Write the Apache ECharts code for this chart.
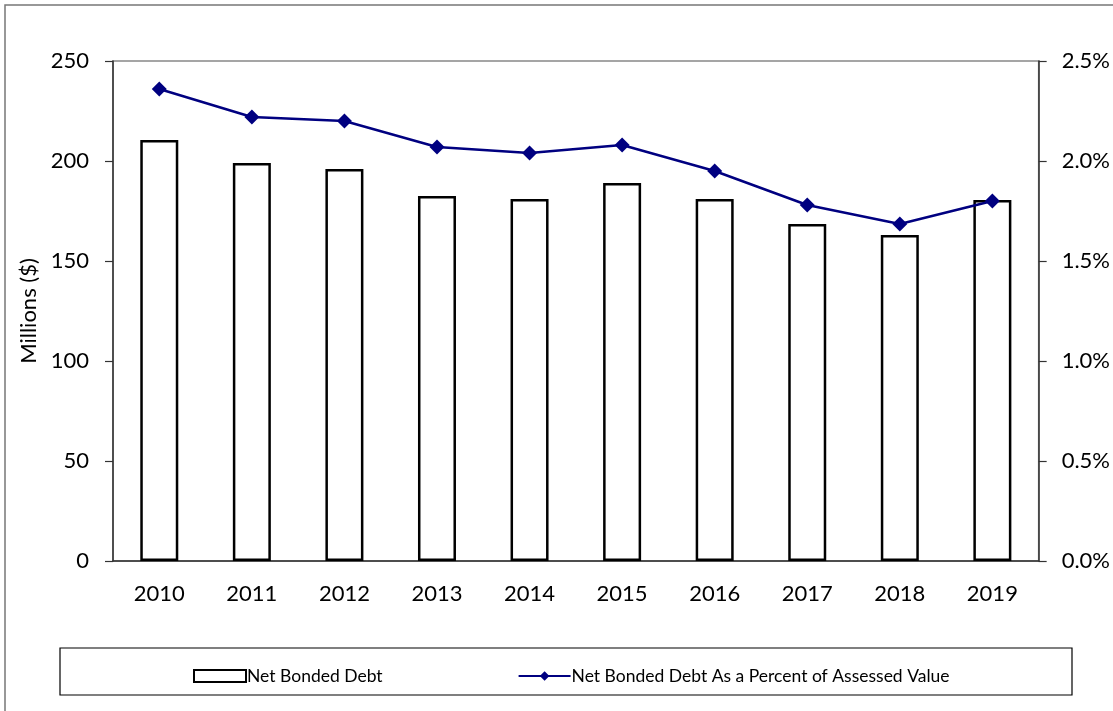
<!DOCTYPE html>
<html>
<head>
<meta charset="utf-8">
<script src="https://cdn.jsdelivr.net/npm/echarts@6/dist/echarts.min.js"></script>
<style>
  html, body { margin: 0; padding: 0; background: #fff; }
  #main { width: 1113px; height: 711px; }
</style>
</head>
<body>
<div id="main"></div>
<script>
// data
const years = ['2010', '2011', '2012', '2013', '2014', '2015', '2016', '2017', '2018', '2019']
const netBondedDebt = [210.5, 199, 196, 182.5, 181, 189, 181, 168.5, 163, 180.5] // millions $
const pctOfAssessed = [2.36, 2.22, 2.20, 2.07, 2.04, 2.08, 1.95, 1.78, 1.685, 1.80] // percent

const FONT = 'Lato'
const chart = echarts.init(document.getElementById('main'))

chart.setOption({
  animation: false,
  textStyle: { fontFamily: FONT },
  grid: { left: 113, right: 74, top: 61, bottom: 150, show: true, borderColor: '#888', borderWidth: 1.5 },
  graphic: [
    // outer frame
    { type: 'rect', shape: { x: 5, y: 5, width: 1120, height: 720 }, style: { fill: 'none', stroke: '#777', lineWidth: 1.5 }, silent: true },
    // legend frame
    { type: 'rect', shape: { x: 60, y: 648, width: 1012, height: 47 }, style: { fill: 'none', stroke: '#000', lineWidth: 1.2 }, silent: true }
  ],
  legend: {
    top: 662,
    left: 188,
    itemGap: 135,
    itemWidth: 52,
    itemHeight: 12,
    textStyle: { fontFamily: FONT, fontSize: 17.5, color: '#000', padding: [0, 0, 0, -4] },
    data: [
      { name: 'Net Bonded Debt', icon: 'rect' },
      { name: 'Net Bonded Debt As a Percent of Assessed Value' }
    ]
  },
  xAxis: {
    type: 'category',
    data: years,
    boundaryGap: true,
    axisLine: { lineStyle: { color: '#333', width: 1.5 } },
    axisTick: { length: 8, lineStyle: { color: '#333', width: 1.2 } },
    axisLabel: { fontFamily: FONT, fontSize: 22, color: '#000', margin: 22 }
  },
  yAxis: [
    {
      type: 'value',
      min: 0, max: 250, interval: 50,
      name: 'Millions ($)',
      nameLocation: 'middle',
      nameGap: 72,
      nameTextStyle: { fontFamily: FONT, fontSize: 22, color: '#000' },
      axisLine: { show: true, lineStyle: { color: '#333', width: 1.5 } },
      axisTick: { show: true, length: 8, lineStyle: { color: '#333', width: 1.2 } },
      axisLabel: { fontFamily: FONT, fontSize: 22, color: '#000', margin: 24 },
      splitLine: { show: false }
    },
    {
      type: 'value',
      position: 'right',
      min: 0, max: 2.5, interval: 0.5,
      axisLine: { show: true, lineStyle: { color: '#333', width: 1.5 } },
      axisTick: { show: true, length: 8, lineStyle: { color: '#333', width: 1.2 } },
      axisLabel: { fontFamily: FONT, fontSize: 22, color: '#000', margin: 23, formatter: v => v.toFixed(1) + '%' },
      splitLine: { show: false }
    }
  ],
  series: [
    {
      name: 'Net Bonded Debt',
      type: 'bar',
      data: netBondedDebt,
      barWidth: 38,
      itemStyle: { color: '#fff', borderColor: '#000', borderWidth: 2.5 }
    },
    {
      name: 'Net Bonded Debt As a Percent of Assessed Value',
      type: 'line',
      yAxisIndex: 1,
      data: pctOfAssessed,
      symbol: 'diamond',
      symbolSize: 15,
      itemStyle: { color: '#000080' },
      lineStyle: { color: '#000080', width: 2.5 }
    }
  ]
})
</script>
</body>
</html>
